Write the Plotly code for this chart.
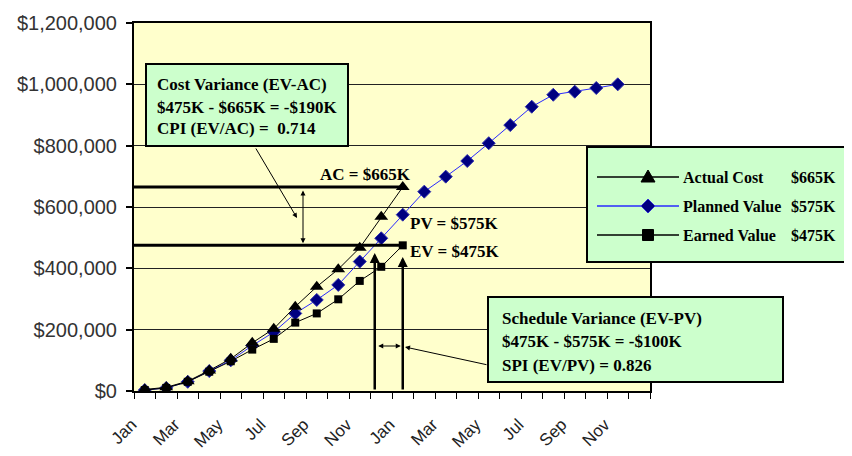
import numpy as np
import plotly.graph_objects as go

# ---------------- data ----------------
months = ["Jan", "Feb", "Mar", "Apr", "May", "Jun", "Jul", "Aug", "Sep", "Oct", "Nov", "Dec",
          "Jan", "Feb", "Mar", "Apr", "May", "Jun", "Jul", "Aug", "Sep", "Oct", "Nov", "Dec"]
actual_cost_k = [5, 12, 32, 67, 105, 157, 203, 275, 340, 397, 467, 568, 665]
planned_value_k = [3, 10, 30, 65, 100, 148, 192, 253, 297, 346, 422, 498, 575,
                   650, 699, 750, 808, 867, 927, 966, 976, 988, 1000]
earned_value_k = [3, 10, 30, 63, 97, 135, 170, 223, 253, 299, 359, 405, 475]
y_tick_vals = [0, 200000, 400000, 600000, 800000, 1000000, 1200000]
y_tick_text = ["$0", "$200,000", "$400,000", "$600,000", "$800,000", "$1,000,000", "$1,200,000"]

# ---------------- derived values ----------------
ac = np.array(actual_cost_k) * 1000
pv = np.array(planned_value_k) * 1000
ev = np.array(earned_value_k) * 1000
now = len(actual_cost_k) - 1
AC, PV, EV = actual_cost_k[now], planned_value_k[now], earned_value_k[now]
cv, cpi = EV - AC, EV / AC
sv, spi = EV - PV, EV / PV
# time when the plan reached the current earned value
x_pv_eq_ev = float(np.interp(ev[now], pv, np.arange(len(pv))))

# ---------------- layout geometry (pixels, page coordinates) ----------------
OFF = 8                      # default page margin around the plot div
W, H = 852, 456
L, R, T, B = 134, 650, 23, 391
FIG_W, FIG_H = W - OFF, H - OFF


def PX(x):
    return (x - L) / (R - L)


def PY(y):
    return (B - y) / (B - T)


def DX(x):  # pixel -> data x
    return (x - L) / ((R - L) / 24) - 0.5


def DY(y):  # pixel -> data y
    return (B - y) / (B - T) * 1200000


SERIF = "Liberation Serif"
SANS = "Liberation Sans"
GREEN = "#ccffcc"

fig = go.Figure()
fig.add_trace(go.Scatter(
    x=list(range(len(pv))), y=pv, mode="lines+markers", name="Planned Value",
    line=dict(color="#2a2aff", width=1),
    marker=dict(symbol="diamond", size=10, color="#000080", line=dict(color="#3030b0", width=1)),
    showlegend=False))
fig.add_trace(go.Scatter(
    x=list(range(len(ac))), y=ac, mode="lines+markers", name="Actual Cost",
    line=dict(color="black", width=1),
    marker=dict(symbol="triangle-up", size=12, color="black"),
    showlegend=False))
fig.add_trace(go.Scatter(
    x=list(range(len(ev))), y=ev, mode="lines+markers", name="Earned Value",
    line=dict(color="black", width=1),
    marker=dict(symbol="square", size=8, color="black"),
    showlegend=False))

shapes = []
# thick reference lines at AC and EV
for val in (ac[now], ev[now]):
    shapes.append(dict(type="line", xref="x", yref="y", x0=-0.5, x1=now, y0=val, y1=val,
                       line=dict(color="black", width=3), layer="above"))
# boxes
for (x0, y0, x1, y1) in [(146, 64, 348, 146), (587, 147, 848, 262), (488, 297, 783, 382)]:
    shapes.append(dict(type="rect", xref="paper", yref="paper",
                       x0=PX(x0), x1=PX(x1), y0=PY(y1), y1=PY(y0),
                       fillcolor=GREEN, line=dict(color="black", width=2), layer="above"))

annotations = []
# vertical arrows up from the axis
for xv, tip in [(x_pv_eq_ev, DY(253)), (now, DY(257))]:
    annotations.append(dict(x=xv, y=tip, ax=xv, ay=0, xref="x", yref="y", axref="x", ayref="y",
                            text="", showarrow=True, arrowhead=2, arrowsize=0.8, arrowwidth=2.5,
                            arrowcolor="black", standoff=0))
# double arrow for schedule variance
annotations.append(dict(x=now, y=DY(346), ax=x_pv_eq_ev, ay=DY(346), xref="x", yref="y",
                        axref="x", ayref="y", text="", showarrow=True, arrowhead=2, arrowsize=1,
                        arrowwidth=1, arrowside="end+start", arrowcolor="black", standoff=2,
                        startstandoff=2))
# double arrow for cost variance
annotations.append(dict(x=DX(303), y=ev[now], ax=DX(303), ay=ac[now], xref="x", yref="y",
                        axref="x", ayref="y", text="", showarrow=True, arrowhead=2, arrowsize=1,
                        arrowwidth=1, arrowside="end+start", arrowcolor="black", standoff=2,
                        startstandoff=2))
# pointer from cost variance box
annotations.append(dict(x=DX(297), y=DY(218), ax=DX(255), ay=DY(147), xref="x", yref="y",
                        axref="x", ayref="y", text="", showarrow=True, arrowhead=2, arrowsize=1,
                        arrowwidth=1, arrowcolor="black", standoff=0))
# pointer from schedule variance box
annotations.append(dict(x=DX(405), y=DY(347), ax=DX(488), ay=DY(365), xref="x", yref="y",
                        axref="x", ayref="y", text="", showarrow=True, arrowhead=2, arrowsize=1,
                        arrowwidth=1, arrowcolor="black", standoff=0))


def label(text, x, y, size=17, xanchor="left"):
    annotations.append(dict(text="<b>" + text + "</b>", x=PX(x), y=PY(y), xref="paper", yref="paper",
                            xanchor=xanchor, yanchor="middle", showarrow=False,
                            font=dict(family=SERIF, size=size, color="black")))


label(f"AC = ${AC}K", 318, 175)
label(f"PV = ${PV}K", 408, 223)
label(f"EV = ${EV}K", 408, 252)

cv_lines = ["Cost Variance (EV-AC)", f"${EV}K - ${AC}K = -${abs(cv)}K", f"CPI (EV/AC) =  {cpi:.3f}"]
for i, t in enumerate(cv_lines):
    label(t, 155, 85 + 22 * i, size=17)
sv_lines = ["Schedule Variance (EV-PV)", f"${EV}K - ${PV}K = -${abs(sv)}K", f"SPI (EV/PV) = {spi:.3f}"]
for i, t in enumerate(sv_lines):
    label(t, 500, 318 + 23.5 * i, size=17)

# legend (hand drawn)
legend_items = [("Actual Cost", AC, "black", "M-7,-5 L7,-5 L0,7 Z"),
                ("Planned Value", PV, "#2a2aff", "M0,-7 L7,0 L0,7 L-7,0 Z"),
                ("Earned Value", EV, "black", "M-5.5,-5.5 L5.5,-5.5 L5.5,5.5 L-5.5,5.5 Z")]
for i, (name, val, col, path) in enumerate(legend_items):
    yy = 177 + 29 * i
    shapes.append(dict(type="line", xref="paper", yref="paper", x0=PX(597), x1=PX(679),
                       y0=PY(yy), y1=PY(yy), line=dict(color=col, width=1.5), layer="above"))
    mcol = "#000080" if i == 1 else "black"
    shapes.append(dict(type="path", xref="paper", yref="paper", xsizemode="pixel", ysizemode="pixel",
                       xanchor=PX(648), yanchor=PY(yy), path=path, fillcolor=mcol,
                       line=dict(color="#3030d0" if i == 1 else "black", width=1), layer="above"))
    label(name, 681, yy, size=16)
    label(f"${val}K", 838, yy, size=16, xanchor="right")

fig.update_layout(
    width=FIG_W, height=FIG_H,
    margin=dict(l=L - OFF, r=W - R, t=T - OFF, b=FIG_H - (B - OFF), pad=0, autoexpand=False),
    paper_bgcolor="white", plot_bgcolor="#ffffcc",
    shapes=shapes, annotations=annotations,
    xaxis=dict(range=[-0.5, 23.5], tickmode="array", tickvals=list(range(0, 24, 2)),
               ticktext=months[::2], tickangle=-45, ticks="", showgrid=False, zeroline=False,
               showline=True, mirror=True, linecolor="black", linewidth=2, automargin=False,
               ticklabelstandoff=15, ticklabelshift=-13,
               tickfont=dict(family=SANS, size=17, color="#222222"),
               minor=dict(tickmode="array", tickvals=[i - 0.5 for i in range(25)], ticks="outside",
                          ticklen=6, tickcolor="black", tickwidth=1.2, showgrid=False)),
    yaxis=dict(range=[0, 1200000], tickmode="array", tickvals=y_tick_vals, ticktext=y_tick_text,
               ticks="outside", ticklen=6, tickcolor="black", tickwidth=1.5, automargin=False,
               ticklabelstandoff=5,
               showgrid=True, gridcolor="#222222", gridwidth=1.2, zeroline=False,
               showline=True, mirror=True, linecolor="black", linewidth=2,
               tickfont=dict(family=SANS, size=20, color="#333333")),
)

fig.write_html("out.html")
